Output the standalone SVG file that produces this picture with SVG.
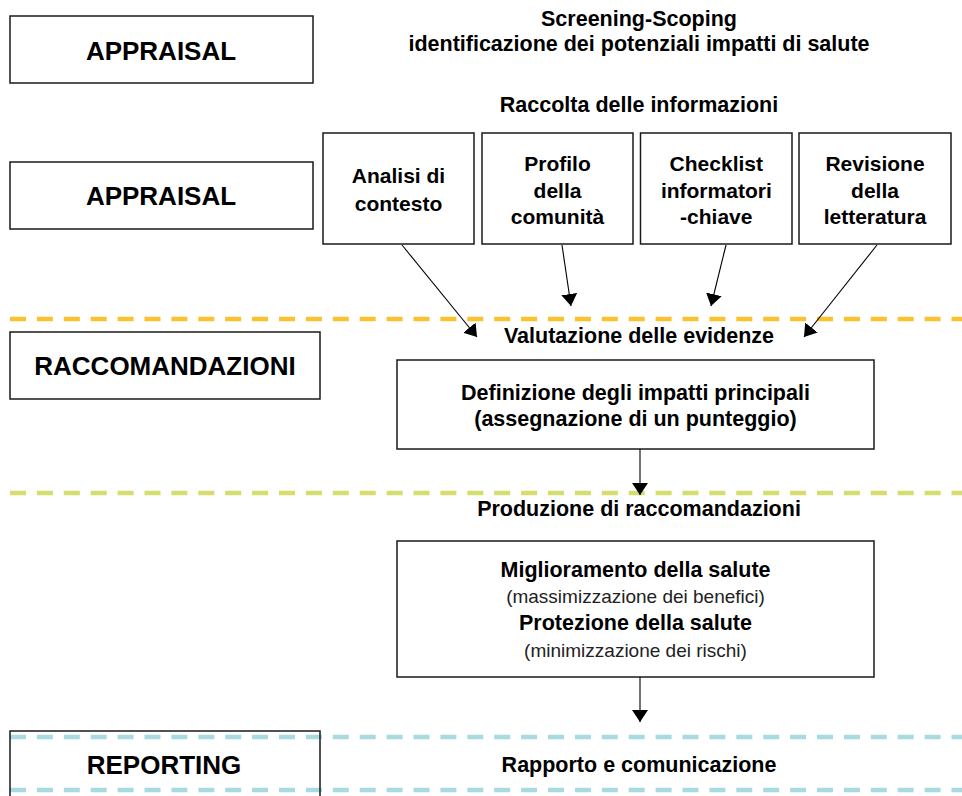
<svg xmlns="http://www.w3.org/2000/svg" width="962" height="796" viewBox="0 0 962 796">
<style>
.box{fill:#fff;stroke:#1a1a1a;stroke-width:1.5}
.big{font-family:"Liberation Sans",Arial,sans-serif;font-weight:bold;font-size:26px;fill:#000;text-anchor:middle}
.t{font-family:"Liberation Sans",Arial,sans-serif;font-weight:bold;font-size:21.5px;fill:#000;text-anchor:middle}
.c{font-family:"Liberation Sans",Arial,sans-serif;font-weight:bold;font-size:21px;fill:#000;text-anchor:middle}
.l{font-family:"Liberation Sans",Arial,sans-serif;font-weight:normal;font-size:19px;fill:#222;text-anchor:middle}
.sep{fill:none;stroke-width:4.5;stroke-dasharray:16 10.9}
.conn{fill:none;stroke:#000;stroke-width:1.1;marker-end:url(#ah)}
</style>
<defs>
<marker id="ah" markerUnits="userSpaceOnUse" markerWidth="12" markerHeight="16" refX="12" refY="8" orient="auto" viewBox="0 0 12 16">
<path d="M0,0 L12,8 L0,16 z" fill="#000"/>
</marker>
</defs>
<rect width="962" height="796" fill="#fff"/>
<g id="separators">
<line class="sep" x1="10" y1="319" x2="962" y2="319" stroke="#FBC12F"/>
<line class="sep" x1="10" y1="493" x2="962" y2="493" stroke="#D4DD6E"/>
<line class="sep" x1="10" y1="737" x2="962" y2="737" stroke="#A9DADF"/>
<line class="sep" x1="10" y1="790" x2="962" y2="790" stroke="#A9DADF"/>
</g>
<g id="appraisal1">
<rect class="box" x="10" y="16" width="303" height="67"/>
<text class="big" x="161" y="60">APPRAISAL</text>
</g>
<g id="title-screening">
<text class="t" x="639" y="26">Screening-Scoping</text>
<text class="t" x="639" y="51">identificazione dei potenziali impatti di salute</text>
</g>
<g id="title-raccolta">
<text class="t" x="639" y="112">Raccolta delle informazioni</text>
</g>
<g id="appraisal2">
<rect class="box" x="10" y="162" width="303" height="67"/>
<text class="big" x="161" y="205">APPRAISAL</text>
</g>
<g id="analisi">
<rect class="box" x="323" y="133" width="151" height="111"/>
<text class="c" x="398.5" y="183">Analisi di</text>
<text class="c" x="398.5" y="210.5">contesto</text>
</g>
<g id="profilo">
<rect class="box" x="482" y="133" width="151" height="111"/>
<text class="c" x="557.5" y="171">Profilo</text>
<text class="c" x="557.5" y="197.5">della</text>
<text class="c" x="557.5" y="224">comunità</text>
</g>
<g id="checklist">
<rect class="box" x="640.5" y="133" width="151.5" height="111"/>
<text class="c" x="716.3" y="171">Checklist</text>
<text class="c" x="716.3" y="197.5">informatori</text>
<text class="c" x="716.3" y="224">-chiave</text>
</g>
<g id="revisione">
<rect class="box" x="799" y="133" width="152" height="111"/>
<text class="c" x="875" y="171">Revisione</text>
<text class="c" x="875" y="197.5">della</text>
<text class="c" x="875" y="224">letteratura</text>
</g>
<g id="raccomandazioni">
<rect class="box" x="10" y="332" width="310" height="67"/>
<text class="big" x="165" y="375">RACCOMANDAZIONI</text>
</g>
<g id="valutazione">
<text class="t" x="639" y="343">Valutazione delle evidenze</text>
</g>
<g id="definizione">
<rect class="box" x="397" y="360" width="477" height="89"/>
<text class="t" x="635.5" y="399.5">Definizione degli impatti principali</text>
<text class="t" x="635.5" y="426">(assegnazione di un punteggio)</text>
</g>
<g id="produzione">
<text class="t" x="639" y="516">Produzione di raccomandazioni</text>
</g>
<g id="miglioramento">
<rect class="box" x="397" y="541" width="477" height="136"/>
<text class="t" x="635.5" y="576.5">Miglioramento della salute</text>
<text class="l" x="635.5" y="603">(massimizzazione dei benefici)</text>
<text class="t" x="635.5" y="630">Protezione della salute</text>
<text class="l" x="635.5" y="656.5">(minimizzazione dei rischi)</text>
</g>
<g id="reporting">
<rect x="10" y="731" width="310" height="80" fill="none" stroke="#1a1a1a" stroke-width="1.5"/>
<text class="big" x="164" y="774">REPORTING</text>
</g>
<g id="rapporto">
<text class="t" x="639" y="772">Rapporto e comunicazione</text>
</g>
<g id="connectors">
<line class="conn" x1="402" y1="245" x2="477" y2="337"/>
<line class="conn" x1="562" y1="245" x2="571" y2="306"/>
<line class="conn" x1="726" y1="245" x2="711" y2="306"/>
<line class="conn" x1="877" y1="245" x2="804" y2="337"/>
<line class="conn" x1="640" y1="449" x2="640" y2="495"/>
<line class="conn" x1="640" y1="677" x2="640" y2="722"/>
</g>
</svg>
